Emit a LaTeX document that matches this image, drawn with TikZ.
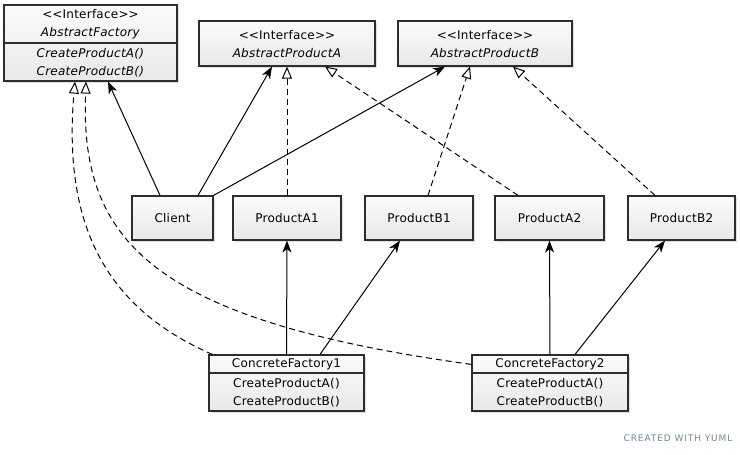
\documentclass[tikz,border=0pt]{standalone}
\usepackage{fontspec}
\usetikzlibrary{arrows.meta,shadows}
\newfontfamily\umlfont[LetterSpace=2]{DejaVu Sans}
\newfontfamily\markfont[LetterSpace=10]{DejaVu Sans}
\definecolor{boxline}{RGB}{45,45,45}
\definecolor{marktext}{RGB}{120,135,150}

\begin{document}
\begin{tikzpicture}[x=1pt,y=1pt,
    umlbox/.style={draw=boxline, line width=1.2pt, top color=gray!3, bottom color=gray!18,
      drop shadow={shadow xshift=2pt,shadow yshift=-2pt,opacity=0.25}, inner sep=0pt,
      font=\umlfont\fontsize{12}{18}\selectfont},
    umltext/.style={font=\umlfont\fontsize{12}{18}\selectfont, align=center, inner sep=0pt},
    divider/.style={draw=boxline, line width=1.2pt},
    uses/.style={line width=1pt, -{Stealth[length=12pt,width=9pt,inset=3.5pt]}},
    realizes/.style={line width=1pt, dash pattern=on 6pt off 4pt,
      -{Triangle[open,fill=white,length=12pt,width=10pt]}}]
  \fill[white] (0,0) rectangle (740,-455);
  \useasboundingbox (0,0) rectangle (740,-455);

  % interfaces
  \node[umlbox, minimum width=173pt, minimum height=76pt] (af) at (90.5,-43) {};
  \node[umltext] (afhead) at (90.5,-24.5) {<\kern0pt<Interface>\kern0pt>\\\textit{AbstractFactory}};
  \node[umltext] (afops) at (90.5,-62.5) {\textit{CreateProductA()}\\\textit{CreateProductB()}};
  \draw[divider] (af.west |- 0,-43) -- (af.east |- 0,-43);

  \node[umlbox, minimum width=176pt, minimum height=45pt] (apa) at (287,-43.5) {};
  \node[umltext] (apahead) at (287,-44) {<\kern0pt<Interface>\kern0pt>\\\textit{AbstractProductA}};
  \node[umlbox, minimum width=174pt, minimum height=45pt] (apb) at (485,-43.5) {};
  \node[umltext] (apbhead) at (485,-44) {<\kern0pt<Interface>\kern0pt>\\\textit{AbstractProductB}};

  % classes
  \node[umlbox, minimum width=81pt, minimum height=44pt] (client) at (172.5,-218) {Client};
  \node[umlbox, minimum width=108pt, minimum height=44pt] (pa1) at (287,-218) {ProductA1};
  \node[umlbox, minimum width=108pt, minimum height=44pt] (pb1) at (419,-218) {ProductB1};
  \node[umlbox, minimum width=109pt, minimum height=44pt] (pa2) at (549.5,-218) {ProductA2};
  \node[umlbox, minimum width=107pt, minimum height=44pt] (pb2) at (681.5,-218) {ProductB2};

  % factories
  \node[umlbox, minimum width=155pt, minimum height=56pt] (cf1) at (286.5,-383) {};
  \node[umltext] (cf1head) at (286.5,-364) {ConcreteFactory1};
  \node[umltext] (cf1ops) at (286.5,-392.5) {CreateProductA()\\CreateProductB()};
  \draw[divider] (cf1.west |- 0,-373) -- (cf1.east |- 0,-373);

  \node[umlbox, minimum width=156pt, minimum height=56pt] (cf2) at (550,-383) {};
  \node[umltext] (cf2head) at (550,-364) {ConcreteFactory2};
  \node[umltext] (cf2ops) at (550,-392.5) {CreateProductA()\\CreateProductB()};
  \draw[divider] (cf2.west |- 0,-373) -- (cf2.east |- 0,-373);

  % associations
  \draw[uses] ([xshift=-12.5pt]client.north) -- ([xshift=17.5pt]af.south);
  \draw[uses] ([xshift=25.5pt]client.north) -- ([xshift=-15pt]apa.south);
  \draw[uses] (client.north east) -- ([xshift=-40pt]apb.south);
  \draw[uses] (cf1.north) -- (pa1.south);
  \draw[uses] ([xshift=33.5pt]cf1.north) -- ([xshift=-19pt]pb1.south);
  \draw[uses] (cf2.north) -- (pa2.south);
  \draw[uses] ([xshift=25pt]cf2.north) -- ([xshift=-16.5pt]pb2.south);

  % realizations
  \draw[realizes] (pa1.north) -- (apa.south);
  \draw[realizes] ([xshift=-31.5pt]pa2.north) -- ([xshift=38pt]apa.south);
  \draw[realizes] ([xshift=9pt]pb1.north) -- ([xshift=-15pt]apb.south);
  \draw[realizes] ([xshift=-26.5pt]pb2.north) -- ([xshift=28pt]apb.south);
  \draw[realizes] ([xshift=4pt]cf1.north west) .. controls (110,-310) and (62,-230) .. ([xshift=-15.5pt]af.south);
  \draw[realizes] ([yshift=-10pt]cf2.north west) .. controls (150,-320) and (80,-240) .. ([xshift=-4.5pt]af.south);

  \node[font=\markfont\fontsize{9}{10}\selectfont, text=marktext] (credit) at (678,-438) {CREATED WITH YUML};
\end{tikzpicture}
\end{document}
